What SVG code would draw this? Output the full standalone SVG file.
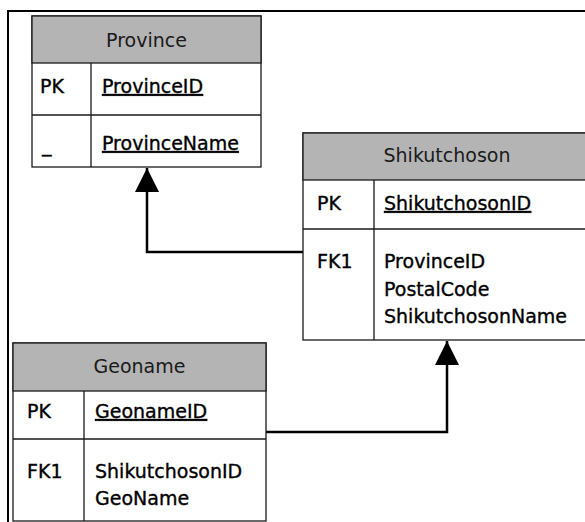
<svg xmlns="http://www.w3.org/2000/svg" width="585" height="522" viewBox="0 0 585 522">
<style>
.box{fill:#fff;stroke:#1a1a1a;stroke-width:1.3}
.hdr{fill:#b4b4b4;stroke:#1a1a1a;stroke-width:1.3}
.ln{stroke:#1a1a1a;stroke-width:1.3}
.ht{font-family:"DejaVu Sans",sans-serif;font-size:19px;fill:#1a1a1a;text-anchor:middle}
.t{font-family:"DejaVu Sans",sans-serif;font-size:19px;fill:#000;stroke:#000;stroke-width:0.35}
.u{text-decoration:underline}
.con{fill:none;stroke:#000;stroke-width:2.5}
</style>
<defs>
<marker id="arr" viewBox="0 0 24 24" refX="24" refY="12" markerWidth="24" markerHeight="24" markerUnits="userSpaceOnUse" orient="auto">
<path d="M0,0 L24,12 L0,24 Z" fill="#000"/>
</marker>
</defs>
<rect x="8" y="11" width="600" height="540" fill="none" stroke="#000" stroke-width="2"/>
<g id="connectors">
<path class="con" d="M303,252 H147 V168" marker-end="url(#arr)"/>
<path class="con" d="M266,432 H447 V341" marker-end="url(#arr)"/>
</g>
<g id="province">
<rect class="box" x="32" y="16" width="229" height="151"/>
<rect class="hdr" x="32" y="16" width="229" height="47"/>
<line class="ln" x1="32" y1="115" x2="261" y2="115"/>
<line class="ln" x1="91" y1="63" x2="91" y2="167"/>
<text class="ht" x="146.5" y="47">Province</text>
<text class="t" x="40" y="93">PK</text>
<text class="t u" x="102" y="93">ProvinceID</text>
<text class="t" x="42" y="152">_</text>
<text class="t u" x="102" y="150">ProvinceName</text>
</g>
<g id="shikutchoson">
<rect class="box" x="303" y="133" width="288" height="207"/>
<rect class="hdr" x="303" y="133" width="288" height="47"/>
<line class="ln" x1="303" y1="229" x2="591" y2="229"/>
<line class="ln" x1="374" y1="180" x2="374" y2="340"/>
<text class="ht" x="447" y="162">Shikutchoson</text>
<text class="t" x="317" y="210">PK</text>
<text class="t u" x="384" y="210">ShikutchosonID</text>
<text class="t" x="317" y="268">FK1</text>
<text class="t" x="384" y="268">ProvinceID</text>
<text class="t" x="384" y="296">PostalCode</text>
<text class="t" x="384" y="323">ShikutchosonName</text>
</g>
<g id="geoname">
<rect class="box" x="13" y="343" width="253" height="178"/>
<rect class="hdr" x="13" y="343" width="253" height="48"/>
<line class="ln" x1="13" y1="439" x2="266" y2="439"/>
<line class="ln" x1="84" y1="391" x2="84" y2="521"/>
<text class="ht" x="139.5" y="373">Geoname</text>
<text class="t" x="27" y="418">PK</text>
<text class="t u" x="95" y="418">GeonameID</text>
<text class="t" x="27" y="478">FK1</text>
<text class="t" x="95" y="478">ShikutchosonID</text>
<text class="t" x="95" y="505">GeoName</text>
</g>
</svg>
